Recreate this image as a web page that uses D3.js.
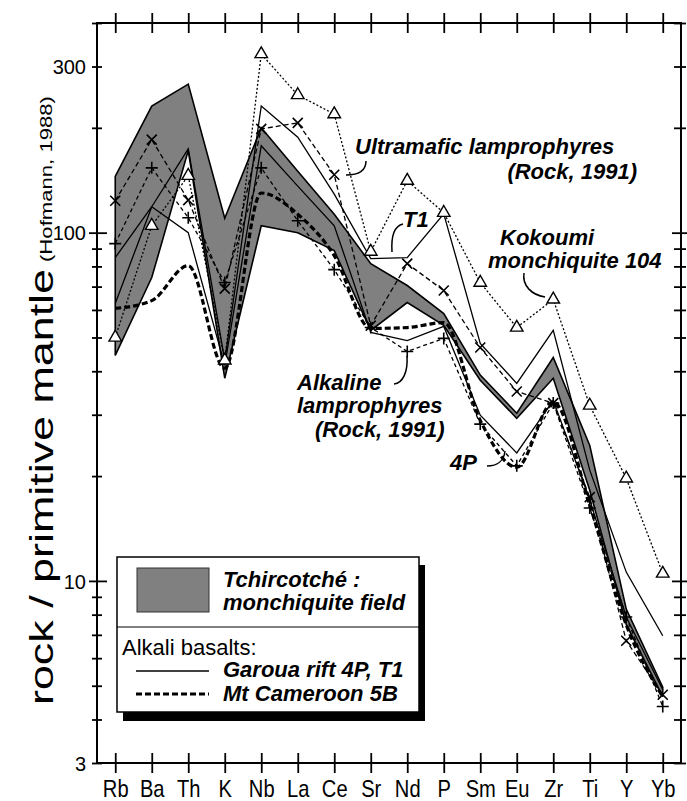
<!DOCTYPE html>
<html>
<head>
<meta charset="utf-8">
<script src="https://cdn.jsdelivr.net/npm/d3@7"></script>
<style>
body { margin: 0; background: #fff; }
text { font-family: "Liberation Sans", Arial, Helvetica, sans-serif; fill: #000; }
.lbl { font-weight: bold; font-style: italic; font-size: 22px; }
</style>
</head>
<body>
<svg id="chart" width="687" height="801"></svg>
<script>
// spider diagram, normalised to primitive mantle (Hofmann 1988)
var elements = ["Rb","Ba","Th","K","Nb","La","Ce","Sr","Nd","P","Sm","Eu","Zr","Ti","Y","Yb"];

// Tchircotché monchiquite field (grey band)
var bandUpper = [145, 231, 267, 110, 200, 150, 113, 81.5, 70.5, 58.6, 39, 30.3, 43.8, 24.5, 8.3, 4.95];
var bandLower = [44.4, 74.3, 172, 38.2, 104.7, 100, 88.8, 52.4, 63, 54.2, 37.7, 29.3, 38.2, 18.2, 7.5, 4.65];

// alkali basalts
var garouaT1 = [84.8, 118.7, 174, 43, 231, 188, 129, 84.2, 84.8, 113.3, 48.1, 36.9, 52.4, 20.8, 10.6, 6.96];
var garoua4P = [62.6, 118.7, 100, 41.6, 177.6, 136, 104.7, 51.7, 49, 53.8, 29.9, 23.3, 33, 17.1, 7.88, 4.87];
var cameroon5B = [60.6, 63.8, 80.4, 40.8, 130, 113, 85.9, 53.1, 53.4, 55.2, 28.9, 21.2, 32.6, 16.5, 7.48, 4.65];

// Rock (1991) averages and Kokoumi sample
var ultramafic = [123.5, 185, 124, 69.1, 198.6, 206.6, 146.6, 54.1, 81.5, 68.2, 46.8, 35, 32.4, 17.4, 6.73, 4.71];
var alkaline = [93, 153.5, 110.4, 71.9, 153.5, 108.2, 78.3, 53.4, 45.6, 49.7, 28.2, 21.4, 32.4, 16.2, 7.88, 4.36];
var kokoumi = [50, 104.7, 145.7, 43, 325.8, 248.5, 219, 88.2, 141, 114.1, 71.9, 53.4, 64.3, 31.9, 19.7, 10.5];

var yLabelTicks = [3, 10, 100, 300];
var yMinorTicks = [3,4,5,6,7,8,9,10,20,30,40,50,60,70,80,90,100,200,300,400];

var svg = d3.select("#chart");
var plotL = 97, plotR = 681, plotT = 23, plotB = 763;

var x = d3.scalePoint().domain(elements).range([plotL, plotR]).padding(0.5);
var y = d3.scaleLog().domain([3, 400]).range([plotB, plotT]);

function isMajor(d) { return d === 10 || d === 100; }

// grey field
var band = elements.map(function(e, i) { return {e: e, lo: bandLower[i], hi: bandUpper[i]}; });
svg.append("path")
  .datum(band)
  .attr("fill", "#808080")
  .attr("stroke", "#000")
  .attr("stroke-width", 1.6)
  .attr("d", d3.area()
    .x(function(d) { return x(d.e); })
    .y0(function(d) { return y(d.lo); })
    .y1(function(d) { return y(d.hi); }));

function line(curve) {
  return d3.line()
    .x(function(d, i) { return x(elements[i]); })
    .y(function(d) { return y(d); })
    .curve(curve || d3.curveLinear);
}

function drawSeries(vals, width, dash, curve) {
  svg.append("path")
    .datum(vals)
    .attr("fill", "none")
    .attr("stroke", "#000")
    .attr("stroke-width", width)
    .attr("stroke-dasharray", dash)
    .attr("d", line(curve));
}

drawSeries(garouaT1, 1.3, null);
drawSeries(garoua4P, 1.3, null);
drawSeries(ultramafic, 1.3, "5,3");
drawSeries(alkaline, 1.3, "4,3");
drawSeries(kokoumi, 1.3, "2,2");
drawSeries(cameroon5B, 3.2, "6,3", d3.curveMonotoneX);

// markers
svg.append("g").selectAll("path").data(ultramafic).enter().append("path")
  .attr("transform", function(d, i) { return "translate(" + x(elements[i]) + "," + y(d) + ")"; })
  .attr("d", "M-5,-5L5,5M-5,5L5,-5")
  .attr("stroke", "#000").attr("stroke-width", 1.6);

svg.append("g").selectAll("path").data(alkaline).enter().append("path")
  .attr("transform", function(d, i) { return "translate(" + x(elements[i]) + "," + y(d) + ")"; })
  .attr("d", "M-6,0L6,0M0,-6L0,6")
  .attr("stroke", "#000").attr("stroke-width", 1.6);

svg.append("g").selectAll("path").data(kokoumi).enter().append("path")
  .attr("transform", function(d, i) { return "translate(" + x(elements[i]) + "," + y(d) + ")"; })
  .attr("d", d3.symbol().type(d3.symbolTriangle).size(68))
  .attr("fill", "#fff").attr("stroke", "#000").attr("stroke-width", 1.4);

// frame + axes
svg.append("rect")
  .attr("x", plotL).attr("y", plotT)
  .attr("width", plotR - plotL).attr("height", plotB - plotT)
  .attr("fill", "none").attr("stroke", "#000").attr("stroke-width", 2);

var gl = svg.append("g").attr("transform", "translate(" + plotL + ",0)")
  .call(d3.axisLeft(y).tickValues(yMinorTicks).tickSize(7).tickPadding(4)
    .tickFormat(function(d) { return yLabelTicks.indexOf(d) >= 0 ? d : ""; }));
gl.select(".domain").remove();
gl.selectAll(".tick line")
  .attr("x1", function(d) { return isMajor(d) ? 10 : 5; })
  .attr("x2", function(d) { return isMajor(d) ? -8 : -5; })
  .attr("stroke-width", 1.8);
gl.selectAll(".tick text").attr("font-size", 20).attr("font-family", null).attr("dy", "0.36em");

var gr = svg.append("g").attr("transform", "translate(" + plotR + ",0)")
  .call(d3.axisRight(y).tickValues(yMinorTicks).tickSize(6).tickFormat(""));
gr.select(".domain").remove();
gr.selectAll(".tick line")
  .attr("x1", function(d) { return isMajor(d) ? -9 : -7; })
  .attr("x2", function(d) { return isMajor(d) ? 6 : 5; })
  .attr("stroke-width", 1.8);

var gt = svg.append("g").attr("transform", "translate(0," + plotT + ")")
  .call(d3.axisTop(x).tickSize(10).tickFormat(""));
gt.select(".domain").remove();
gt.selectAll(".tick line").attr("y1", 10).attr("stroke-width", 1.8);

var gb = svg.append("g").attr("transform", "translate(0," + plotB + ")")
  .call(d3.axisBottom(x).tickSize(10));
gb.select(".domain").remove();
gb.selectAll(".tick line").attr("y1", -10).attr("stroke-width", 1.8);
gb.selectAll(".tick text")
  .attr("font-family", null).attr("font-size", 24)
  .attr("y", 34).attr("dy", 0)
  .attr("transform", "scale(0.84,1)");

// y title
svg.append("text")
  .attr("transform", "translate(53,705) rotate(-90)")
  .attr("font-size", 34)
  .attr("textLength", 436).attr("lengthAdjust", "spacingAndGlyphs")
  .text("rock / primitive mantle");
svg.append("text")
  .attr("transform", "translate(52,262) rotate(-90)")
  .attr("font-size", 17)
  .attr("textLength", 166).attr("lengthAdjust", "spacingAndGlyphs")
  .text("(Hofmann, 1988)");

// annotations
var notes = [
  {t: "Ultramafic lamprophyres", x: 355, y: 154, a: "start"},
  {t: "(Rock, 1991)", x: 637, y: 179, a: "end"},
  {t: "T1", x: 403, y: 227, a: "start"},
  {t: "Kokoumi", x: 500, y: 245, a: "start"},
  {t: "monchiquite 104", x: 488, y: 268, a: "start"},
  {t: "Alkaline", x: 297, y: 390, a: "start"},
  {t: "lamprophyres", x: 297, y: 413, a: "start"},
  {t: "(Rock, 1991)", x: 315, y: 437, a: "start"},
  {t: "4P", x: 450, y: 470, a: "start"}
];
svg.append("g").selectAll("text").data(notes).enter().append("text")
  .attr("class", "lbl")
  .attr("x", function(d) { return d.x; })
  .attr("y", function(d) { return d.y; })
  .attr("text-anchor", function(d) { return d.a; })
  .text(function(d) { return d.t; });

var leaders = [
  "M366,161 C366,170 360,175 346,175",
  "M403,224 C394,226 391,236 392,252",
  "M524,273 C522,286 532,295 545,297",
  "M407,356 C408,372 403,383 394,384",
  "M487,466 C497,466 504,461 505,451"
];
svg.append("g").selectAll("path").data(leaders).enter().append("path")
  .attr("d", function(d) { return d; })
  .attr("fill", "none").attr("stroke", "#000").attr("stroke-width", 1.5);

// legend
var lg = svg.append("g");
lg.append("rect").attr("x", 123).attr("y", 565).attr("width", 302).attr("height", 156).attr("fill", "#000");
lg.append("rect").attr("x", 117).attr("y", 557).attr("width", 302).attr("height", 155)
  .attr("fill", "#fff").attr("stroke", "#000").attr("stroke-width", 1.5);
lg.append("line").attr("x1", 117).attr("x2", 419).attr("y1", 627).attr("y2", 627)
  .attr("stroke", "#000").attr("stroke-width", 1.2);
lg.append("rect").attr("x", 137).attr("y", 568).attr("width", 72).attr("height", 44)
  .attr("fill", "#808080").attr("stroke", "#333").attr("stroke-width", 1);
lg.append("text").attr("class", "lbl").attr("x", 223).attr("y", 587).text("Tchircotché :");
lg.append("text").attr("class", "lbl").attr("x", 223).attr("y", 610).text("monchiquite field");
lg.append("text").attr("x", 122).attr("y", 655).attr("font-size", 22).text("Alkali basalts:");
lg.append("line").attr("x1", 136).attr("x2", 209).attr("y1", 671).attr("y2", 671)
  .attr("stroke", "#000").attr("stroke-width", 1.3);
lg.append("line").attr("x1", 136).attr("x2", 209).attr("y1", 694).attr("y2", 694)
  .attr("stroke", "#000").attr("stroke-width", 3.2).attr("stroke-dasharray", "6,3");
lg.append("text").attr("class", "lbl").attr("x", 223).attr("y", 677).text("Garoua rift 4P, T1");
lg.append("text").attr("class", "lbl").attr("x", 223).attr("y", 701).text("Mt Cameroon 5B");
</script>
</body>
</html>
